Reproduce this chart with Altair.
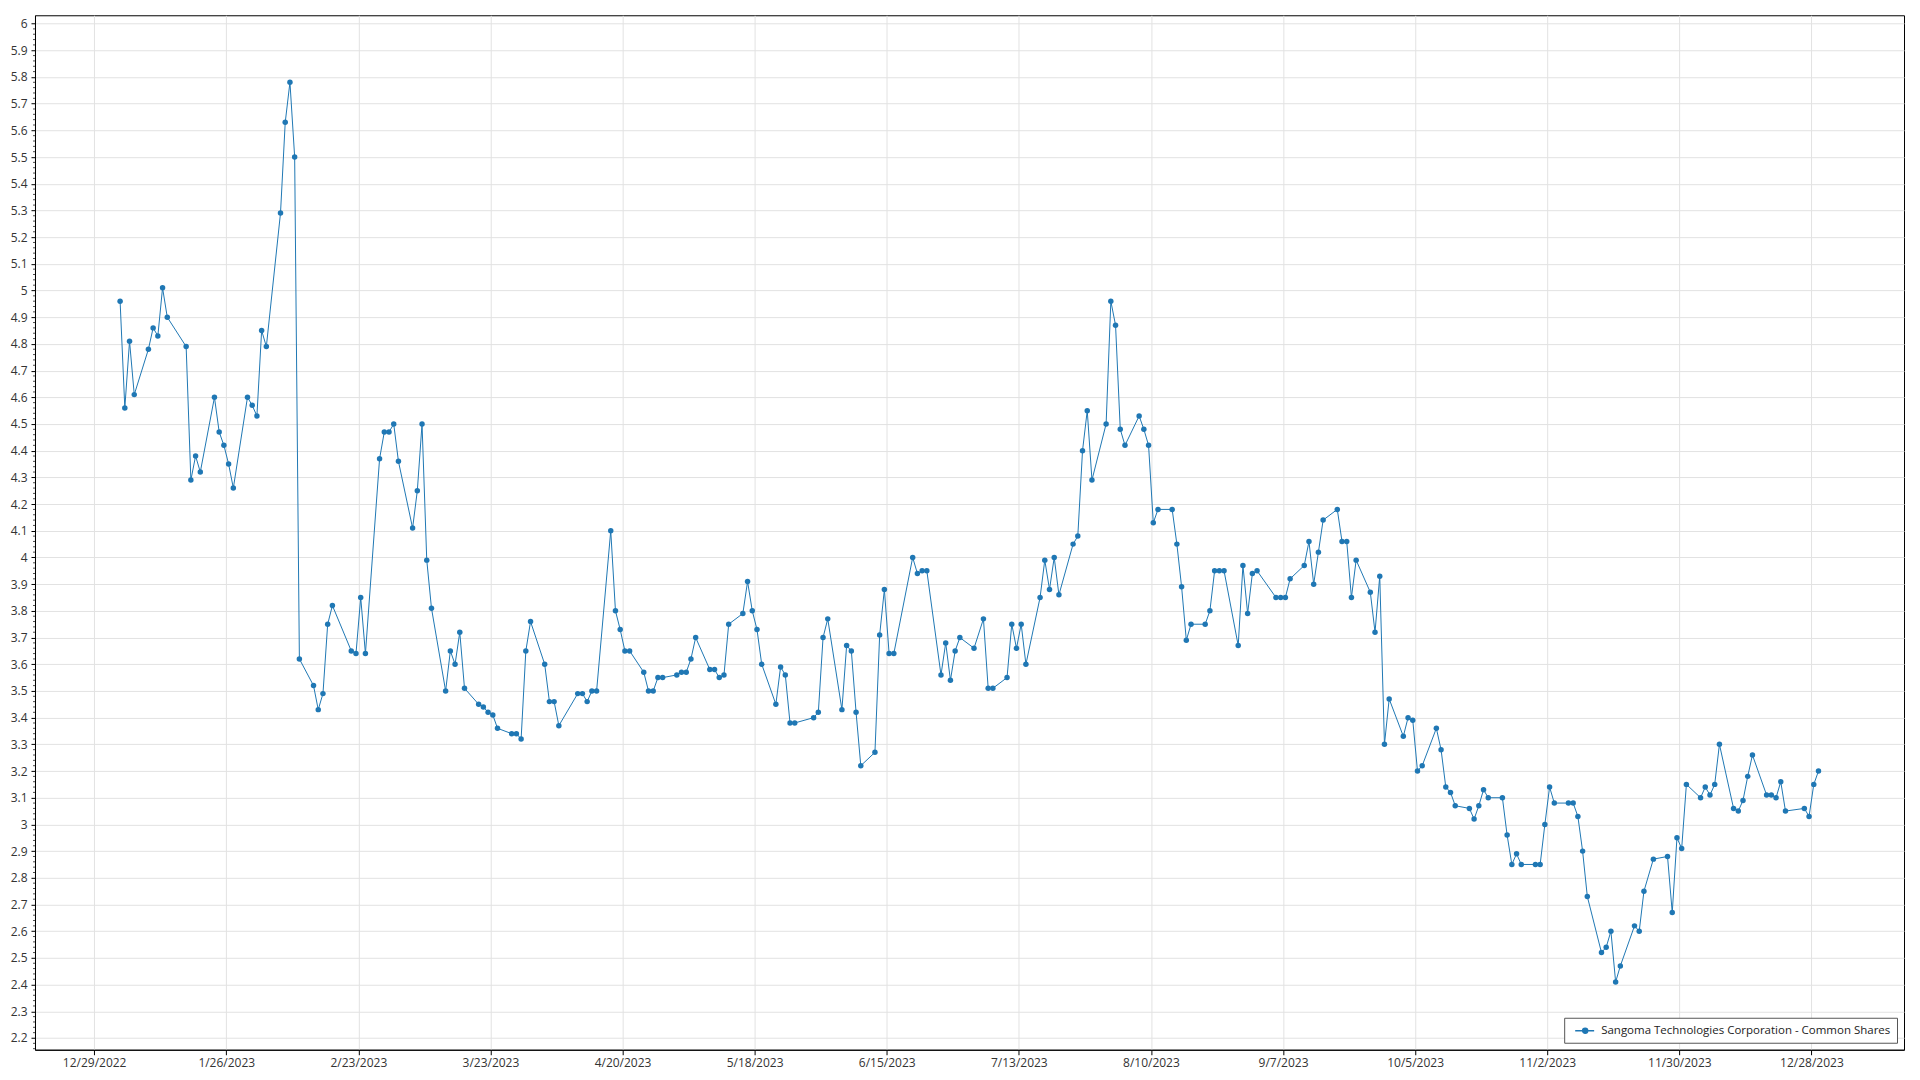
import altair as alt
import pandas as pd

SERIES = "Sangoma Technologies Corporation - Common Shares"

# trading days (day of month) and closing prices, per month of 2023
jan_days = [3, 4, 5, 6, 9, 10, 11, 12, 13, 17, 18, 19, 20, 23, 24, 25, 26, 27, 30, 31]
jan_vals = [4.96, 4.56, 4.81, 4.61, 4.78, 4.86, 4.83, 5.01, 4.90, 4.79, 4.29, 4.38, 4.32, 4.60, 4.47, 4.42, 4.35, 4.26, 4.60, 4.57]
feb_days = [1, 2, 3, 6, 7, 8, 9, 10, 13, 14, 15, 16, 17, 21, 22, 23, 24, 27, 28]
feb_vals = [4.53, 4.85, 4.79, 5.29, 5.63, 5.78, 5.50, 3.62, 3.52, 3.43, 3.49, 3.75, 3.82, 3.65, 3.64, 3.85, 3.64, 4.37, 4.47]
mar_days = [1, 2, 3, 6, 7, 8, 9, 10, 13, 14, 15, 16, 17, 20, 21, 22, 23, 24, 27, 28, 29, 30, 31]
mar_vals = [4.47, 4.50, 4.36, 4.11, 4.25, 4.50, 3.99, 3.81, 3.50, 3.65, 3.60, 3.72, 3.51, 3.45, 3.44, 3.42, 3.41, 3.36, 3.34, 3.34, 3.32, 3.65, 3.76]
apr_days = [3, 4, 5, 6, 10, 11, 12, 13, 14, 17, 18, 19, 20, 21, 24, 25, 26, 27, 28]
apr_vals = [3.60, 3.46, 3.46, 3.37, 3.49, 3.49, 3.46, 3.50, 3.50, 4.10, 3.80, 3.73, 3.65, 3.65, 3.57, 3.50, 3.50, 3.55, 3.55]
may_days = [1, 2, 3, 4, 5, 8, 9, 10, 11, 12, 15, 16, 17, 18, 19, 22, 23, 24, 25, 26, 30, 31]
may_vals = [3.56, 3.57, 3.57, 3.62, 3.70, 3.58, 3.58, 3.55, 3.56, 3.75, 3.79, 3.91, 3.80, 3.73, 3.60, 3.45, 3.59, 3.56, 3.38, 3.38, 3.40, 3.42]
jun_days = [1, 2, 5, 6, 7, 8, 9, 12, 13, 14, 15, 16, 20, 21, 22, 23, 26, 27, 28, 29, 30]
jun_vals = [3.70, 3.77, 3.43, 3.67, 3.65, 3.42, 3.22, 3.27, 3.71, 3.88, 3.64, 3.64, 4.00, 3.94, 3.95, 3.95, 3.56, 3.68, 3.54, 3.65, 3.70]
jul_days = [3, 5, 6, 7, 10, 11, 12, 13, 14, 17, 18, 19, 20, 21, 24, 25, 26, 27, 28, 31]
jul_vals = [3.66, 3.77, 3.51, 3.51, 3.55, 3.75, 3.66, 3.75, 3.60, 3.85, 3.99, 3.88, 4.00, 3.86, 4.05, 4.08, 4.40, 4.55, 4.29, 4.50]
aug_days = [1, 2, 3, 4, 7, 8, 9, 10, 11, 14, 15, 16, 17, 18, 21, 22, 23, 24, 25, 28, 29, 30, 31]
aug_vals = [4.96, 4.87, 4.48, 4.42, 4.53, 4.48, 4.42, 4.13, 4.18, 4.18, 4.05, 3.89, 3.69, 3.75, 3.75, 3.80, 3.95, 3.95, 3.95, 3.67, 3.97, 3.79, 3.94]
sep_days = [1, 5, 6, 7, 8, 11, 12, 13, 14, 15, 18, 19, 20, 21, 22, 25, 26, 27, 28, 29]
sep_vals = [3.95, 3.85, 3.85, 3.85, 3.92, 3.97, 4.06, 3.90, 4.02, 4.14, 4.18, 4.06, 4.06, 3.85, 3.99, 3.87, 3.72, 3.93, 3.30, 3.47]
oct_days = [2, 3, 4, 5, 6, 9, 10, 11, 12, 13, 16, 17, 18, 19, 20, 23, 24, 25, 26, 27, 30, 31]
oct_vals = [3.33, 3.40, 3.39, 3.20, 3.22, 3.36, 3.28, 3.14, 3.12, 3.07, 3.06, 3.02, 3.07, 3.13, 3.10, 3.10, 2.96, 2.85, 2.89, 2.85, 2.85, 2.85]
nov_days = [1, 2, 3, 6, 7, 8, 9, 10, 13, 14, 15, 16, 17, 20, 21, 22, 24, 27, 28, 29, 30]
nov_vals = [3.00, 3.14, 3.08, 3.08, 3.08, 3.03, 2.90, 2.73, 2.52, 2.54, 2.60, 2.41, 2.47, 2.62, 2.60, 2.75, 2.87, 2.88, 2.67, 2.95, 2.91]
dec_days = [1, 4, 5, 6, 7, 8, 11, 12, 13, 14, 15, 18, 19, 20, 21, 22, 26, 27, 28, 29]
dec_vals = [3.15, 3.10, 3.14, 3.11, 3.15, 3.30, 3.06, 3.05, 3.09, 3.18, 3.26, 3.11, 3.11, 3.10, 3.16, 3.05, 3.06, 3.03, 3.15, 3.20]

# axis ticks
x_tick_dates = [(2022, 12, 29), (2023, 1, 26), (2023, 2, 23), (2023, 3, 23), (2023, 4, 20),
                (2023, 5, 18), (2023, 6, 15), (2023, 7, 13), (2023, 8, 10), (2023, 9, 7),
                (2023, 10, 5), (2023, 11, 2), (2023, 11, 30), (2023, 12, 28)]
y_ticks = [2.2, 2.3, 2.4, 2.5, 2.6, 2.7, 2.8, 2.9, 3.0, 3.1, 3.2, 3.3, 3.4, 3.5, 3.6, 3.7,
           3.8, 3.9, 4.0, 4.1, 4.2, 4.3, 4.4, 4.5, 4.6, 4.7, 4.8, 4.9, 5.0, 5.1, 5.2, 5.3,
           5.4, 5.5, 5.6, 5.7, 5.8, 5.9, 6.0]
minor_steps = [0.02, 0.04, 0.06, 0.08]

months = [jan_days, feb_days, mar_days, apr_days, may_days, jun_days,
          jul_days, aug_days, sep_days, oct_days, nov_days, dec_days]
values = [jan_vals, feb_vals, mar_vals, apr_vals, may_vals, jun_vals,
          jul_vals, aug_vals, sep_vals, oct_vals, nov_vals, dec_vals]

rows = []
for m, (days, vals) in enumerate(zip(months, values), start=1):
    for d, v in zip(days, vals):
        rows.append({"date": f"2023-{m:02d}-{d:02d}T12:00:00", "price": v, "series": SERIES})
df = pd.DataFrame(rows)

minor_df = pd.DataFrame({"v": [round(t + s, 2) for t in y_ticks[:-1] for s in minor_steps]
                         + [2.16, 2.18]})

FONT = "Open Sans"
BLUE = "#1f77b4"

x_values = [alt.DateTime(year=y, month=m, date=d) for (y, m, d) in x_tick_dates]
y_scale = alt.Scale(domain=[2.156, 6.031], nice=False, zero=False)
y_axis = alt.Axis(values=y_ticks, format=".1~f", tickSize=4, labelPadding=4,
                  labelFlush=False, labelOverlap=False)

legend_symbol = ("M-0.33,0L2.83,0"
                 "M0.91,0A0.42,0.42,0,1,1,1.75,0A0.42,0.42,0,1,1,0.91,0Z")

series = alt.Chart(df).mark_line(
    strokeWidth=1,
    point=alt.OverlayMarkDef(filled=True, size=30, opacity=1),
).encode(
    x=alt.X(
        "date:T",
        title=None,
        scale=alt.Scale(domain=[alt.DateTime(year=2022, month=12, date=16, hours=11),
                                alt.DateTime(year=2024, month=1, date=16, hours=15)]),
        axis=alt.Axis(values=x_values, format="%-m/%-d/%Y", tickSize=5, labelPadding=3,
                      labelFlush=False, labelOverlap=False),
    ),
    y=alt.Y("price:Q", title=None, scale=y_scale, axis=y_axis),
    color=alt.Color(
        "series:N",
        scale=alt.Scale(domain=[SERIES], range=[BLUE]),
        legend=alt.Legend(
            title=None, orient="bottom-right", offset=7,
            symbolType=legend_symbol,
            symbolSize=144, symbolStrokeWidth=1.5, symbolFillColor=BLUE,
            symbolStrokeColor=BLUE, symbolOpacity=1,
            labelFont=FONT, labelFontSize=11.5, labelColor="#222", labelOffset=17,
            padding=6, strokeColor="#555", fillColor="white", cornerRadius=0,
            labelLimit=0,
        ),
    ),
)

minor_ticks = alt.Chart(minor_df).mark_tick(
    color="black", thickness=1, size=2, clip=False, orient="horizontal",
).encode(
    x=alt.value(-1),
    y=alt.Y("v:Q", title=None, scale=y_scale, axis=y_axis),
)

chart = alt.layer(series, minor_ticks).properties(
    width=1870,
    height=1035,
    autosize=alt.AutoSizeParams(type="none"),
    padding={"left": 27, "top": 7, "right": 8, "bottom": 30},
).configure_view(
    stroke="black", strokeWidth=1,
).configure_axis(
    domainColor="black", tickColor="black", gridColor="#e2e2e2", gridWidth=1,
    labelFont=FONT, labelFontSize=12, labelColor="#333", domainWidth=1,
)

chart.save("out.html", embed_options={"renderer": "svg", "actions": False})
